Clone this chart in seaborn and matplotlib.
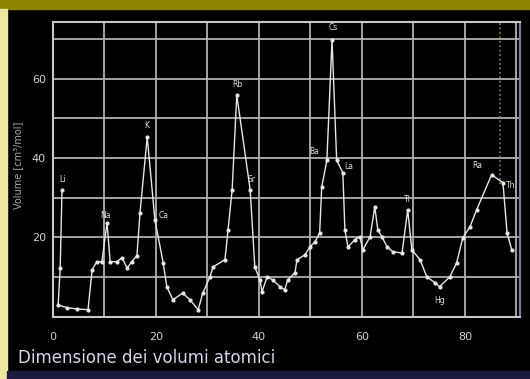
import numpy as np
import pandas as pd
import matplotlib
matplotlib.use("Agg")
import matplotlib.pyplot as plt
import seaborn as sns
from matplotlib.patches import Rectangle

# atomic number (approx) vs atomic volume
z = [1.75, 1.4, 1.0, 2.7, 4.7, 6.8, 7.6, 8.5, 9.5, 10.5, 11.1, 12.4, 13.4, 14.4,
     15.3, 16.3, 16.9, 18.3, 19.8, 21.4, 22.1, 23.3, 25.2, 26.6, 28.2, 29.1,
     30.5, 31.1, 33.4, 34.0, 34.8, 35.7, 38.3, 39.2, 40.2, 40.6, 41.6, 42.7,
     44.1, 45.0, 45.6, 47.0, 47.4, 48.9, 49.9, 50.9, 51.8, 52.2, 53.2, 54.2,
     55.1, 56.3, 56.7, 57.3, 58.6, 59.6, 60.2, 61.6, 62.5, 63.1, 63.9, 64.9,
     66.0, 67.8, 68.9, 69.7, 71.3, 72.6, 74.2, 75.1, 77.1, 78.4, 79.6, 81.0,
     82.3, 85.2, 87.4, 88.2, 89.1]
volume = [32.0, 12.3, 3.0, 2.3, 2.0, 1.8, 11.8, 13.9, 13.9, 23.7, 13.9, 13.9, 14.9, 12.3,
          13.9, 15.4, 26.2, 45.3, 24.4, 13.6, 7.6, 4.3, 6.0, 4.3, 1.8, 6.0,
          10.1, 12.6, 14.4, 21.9, 32.0, 55.9, 32.0, 12.6, 9.3, 6.3, 10.1, 9.3,
          7.6, 6.8, 9.3, 11.1, 14.4, 15.6, 17.6, 18.9, 21.2, 32.7, 39.5, 69.8,
          39.5, 36.3, 21.9, 17.6, 19.4, 20.2, 16.9, 20.2, 27.7, 21.9, 20.2, 17.6,
          16.4, 16.1, 27.0, 16.9, 14.4, 10.1, 8.6, 7.6, 10.1, 13.6, 19.9, 22.7,
          27.0, 35.8, 33.8, 21.2, 16.9]

labels = ["Li", "Na", "K", "Ca", "Rb", "Sr", "Cs", "Ba", "La", "Tl", "Hg", "Ra", "Th"]
label_x = [1.8, 10.2, 18.3, 21.5, 35.8, 38.5, 54.5, 50.8, 57.5, 68.9, 75.0, 82.5, 89.0]
label_y = [33.5, 24.5, 47.0, 24.5, 57.5, 33.5, 71.8, 40.5, 36.8, 28.5, 3.0, 37.0, 32.0]

xticks = [0, 20, 40, 60, 80]
yticks = [20, 40, 60]

df = pd.DataFrame({"z": z, "volume": volume})

sns.set_theme(style="dark")
plt.rcParams["font.family"] = ["DejaVu Sans"]

fig = plt.figure(figsize=(5.3, 3.79), dpi=100, facecolor="black")
ax = fig.add_axes([0.1, 0.164, 0.881, 0.778])
ax.set_facecolor("black")

# grid
for gx in range(0, 91, 10):
    ax.axvline(gx, color="#b0b0b0", lw=1.3, zorder=1)
for gy in range(10, 71, 10):
    ax.axhline(gy, color="#b0b0b0", lw=1.3, zorder=1)
ax.axvline(86.8, ymin=0.45, ymax=1, color="#8f8a3a", lw=1.2, ls=":", zorder=1)

sns.lineplot(data=df, x="z", y="volume", sort=False, color="#e6e6e6", lw=1.0,
             marker="o", markersize=3, markeredgewidth=0, ax=ax, zorder=3)

for s, lx, ly in zip(labels, label_x, label_y):
    ax.text(lx, ly, s, color="#dddddd", fontsize=5.5, ha="center", va="bottom", zorder=4)

ax.set_xlim(0, 90.7)
ax.set_ylim(0, 74.3)
ax.set_xticks(xticks)
ax.set_xticklabels([str(t) for t in xticks])
ax.set_yticks(yticks)
ax.set_yticklabels([str(t) for t in yticks])
ax.tick_params(colors="#cfcfcf", labelsize=8, length=0)
ax.tick_params(axis="x", pad=11)
ax.tick_params(axis="y", pad=5)
ax.set_xlabel("")
ax.set_ylabel("")
ax.grid(False)
for side in ["left", "bottom", "top"]:
    ax.spines[side].set_color("#c8c8c8")
    ax.spines[side].set_linewidth(1.5)
ax.spines["right"].set_color("#8878a8")
ax.spines["right"].set_linewidth(1.5)

fig.text(18 / 530, 1 - 165 / 379, "Volume [cm³/mol]", rotation=90, color="#a8a8a8",
         fontsize=7, ha="center", va="center")
fig.text(18 / 530, 1 - 358 / 379, "Dimensione dei volumi atomici", color="#d8d2ea",
         fontsize=12, ha="left", va="center")

# coloured frame strips
fig.patches.append(Rectangle((0, 1 - 9 / 379), 1, 9 / 379, transform=fig.transFigure,
                             color="#8c8600", zorder=0))
fig.patches.append(Rectangle((0, 0), 7 / 530, 1 - 9 / 379, transform=fig.transFigure,
                             color="#efe6a2", zorder=0))
fig.patches.append(Rectangle((7 / 530, 0), 1, 8 / 379, transform=fig.transFigure,
                             color="#1c1c3c", zorder=0))

fig.savefig("out.png", dpi=100, facecolor="black")
